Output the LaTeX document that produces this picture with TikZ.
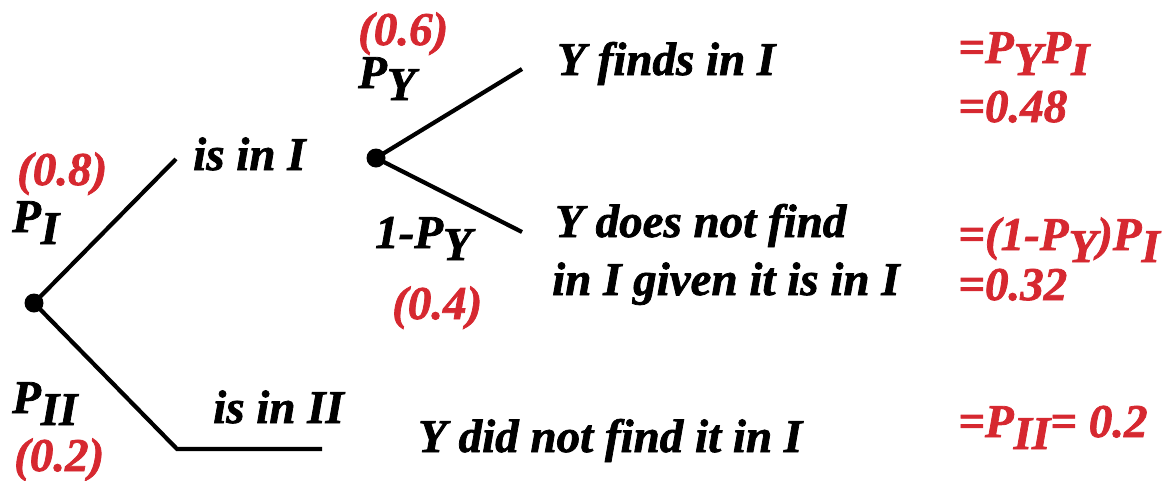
\documentclass[tikz,border=0pt]{standalone}
\usepackage{fontspec}
\setmainfont{Liberation Serif}
\newfontfamily\lblfont[FakeBold=1.6]{Liberation Serif}
\definecolor{pred}{RGB}{214,40,48}
\newcommand{\sbx}[1]{\lower12pt\hbox{#1}}
\begin{document}
\begin{tikzpicture}[x=1pt,y=-1pt,
  lbl/.style={anchor=base west,inner sep=0pt,font=\fontsize{47}{52}\lblfont\bfseries\itshape},
  rlbl/.style={lbl,text=pred},
  br/.style={line width=4.2pt},
  dotnode/.style={circle,fill=black,minimum size=19pt,inner sep=0pt}]
\useasboundingbox (0,0) rectangle (1170,480);
% tree nodes
\node[dotnode] (r) at (34,303) {};
\node[dotnode] (m) at (376,158) {};
\coordinate (a) at (176,159);
\coordinate (c) at (177,449);
\coordinate (d) at (322,449);
\coordinate (u) at (522,69);
\coordinate (l) at (522,232);
\draw[br] (r.center) -- (a);
\draw[br] (r.center) -- (c) -- (d);
\draw[br] (m.center) -- (u);
\draw[br] (m.center) -- (l);
% labels
\node[rlbl] (p08) at (17,185) {(0.8)};
\node[lbl] (pI) at (12,232) {P\sbx{I}};
\node[lbl] (isI) at (193,170) {is in I};
\node[rlbl] (p06) at (358,45) {(0.6)};
\node[lbl] (pY) at (358,88) {P\sbx{Y}};
\node[lbl] (yf) at (557,75) {Y finds in I};
\node[rlbl] (e1) at (958,63) {=P\sbx{Y}P\sbx{I}};
\node[rlbl] (e1b) at (958,122) {=0.48};
\node[lbl] (omp) at (375,248) {1-P\sbx{Y}};
\node[rlbl] (p04) at (392,319) {(0.4)};
\node[lbl] (ydn1) at (555,237) {Y does not find};
\node[lbl] (ydn2) at (552,295) {in I given it is in I};
\node[rlbl] (e2) at (958,250) {=(1-P\sbx{Y})P\sbx{I}};
\node[rlbl] (e2b) at (958,300) {=0.32};
\node[lbl] (pII) at (12,413) {P\sbx{II}};
\node[rlbl] (p02) at (14,471) {(0.2)};
\node[lbl] (isII) at (213,423) {is in II};
\node[lbl] (ydnf) at (418,452) {Y did not find it in I};
\node[rlbl] (e3) at (958,437) {=P\sbx{II}= 0.2};
\end{tikzpicture}
\end{document}
